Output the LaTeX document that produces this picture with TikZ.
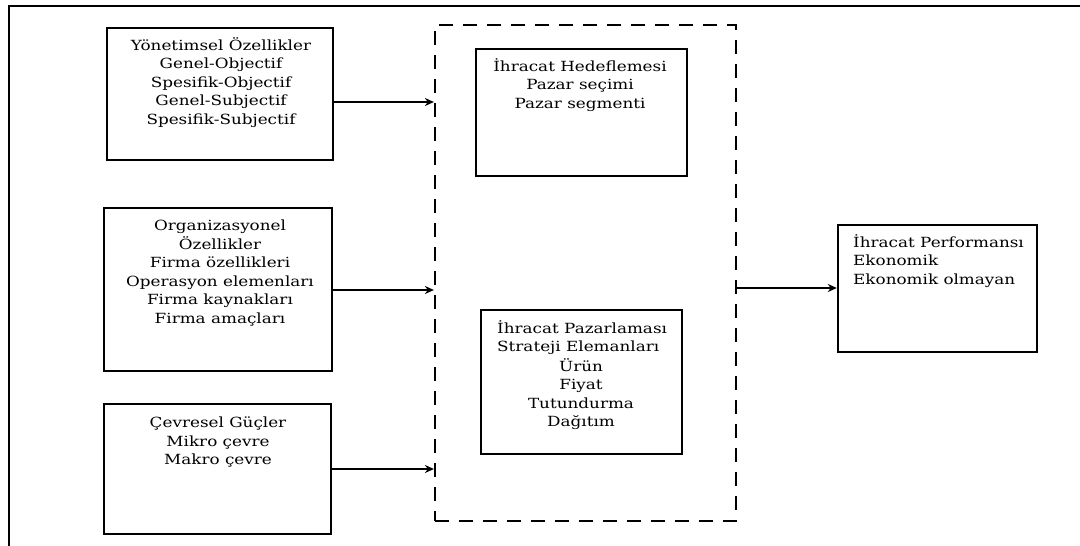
\documentclass[tikz,border=0pt]{standalone}
\usepackage{fontspec}
\setmainfont[FakeStretch=1.2]{DejaVu Serif}
\usetikzlibrary{fit,arrows.meta}
\tikzset{
  box/.style={draw, line width=2.4pt, inner sep=0pt},
  dashbox/.style={draw, line width=2.2pt, inner sep=0pt, dash pattern=on 14pt off 10pt},
  lbl/.style={inner sep=0pt, font=\fontsize{14}{18.5}\selectfont, anchor=north},
  arr/.style={line width=1.6pt, -{Stealth[length=9pt,width=8pt]}},
  frame/.style={line width=2.6pt}
}
\begin{document}
\begin{tikzpicture}[x=1pt,y=-1pt]
\useasboundingbox (0,0) rectangle (1080,546);
% outer frame
\coordinate (f1) at (9,546);
\coordinate (f2) at (9,6);
\coordinate (f3) at (1080,6);
\draw[frame] (f1) -- (f2) -- (f3);
% boxes
\node[box, fit={(107,28)(333,160)}] (b1) {};
\node[box, fit={(104,208)(332,371)}] (b2) {};
\node[box, fit={(104,404)(331,534)}] (b3) {};
\node[dashbox, fit={(435,25)(736,521)}] (dash) {};
\node[box, fit={(476,49)(687,176)}] (h1) {};
\node[box, fit={(481,310)(682,454)}] (h2) {};
\node[box, fit={(838,225)(1037,352)}] (rb) {};
% texts
\node[lbl, align=center] (t1) at (221,37) {Yönetimsel Özellikler\\Genel-Objectif\\Spesifik-Objectif\\Genel-Subjectif\\Spesifik-Subjectif};
\node[lbl, align=center] (t2) at (220,220) {Organizasyonel\\Özellikler\\Firma özellikleri\\Operasyon elemenları\\Firma kaynakları\\Firma amaçları};
\node[lbl, align=center] (t3) at (218,417) {Çevresel Güçler\\Mikro çevre\\Makro çevre};
\node[lbl, align=center] (t4) at (580,58) {İhracat Hedeflemesi\\Pazar seçimi\\Pazar segmenti};
\node[lbl, align=left, anchor=north west] (t5) at (497,320) {İhracat Pazarlaması\\Strateji Elemanları};
\node[lbl, align=center] (t6) at (581,358) {Ürün\\Fiyat\\Tutundurma\\Dağıtım};
\node[lbl, align=left, anchor=north west] (t7) at (853,234) {İhracat Performansı\\Ekonomik\\Ekonomik olmayan};
% arrows
\coordinate (y1) at (0,102);
\coordinate (y2) at (0,290);
\coordinate (y3) at (0,469);
\coordinate (y4) at (0,288);
\draw[arr] (b1.east |- y1) -- (dash.west |- y1);
\draw[arr] (b2.east |- y2) -- (dash.west |- y2);
\draw[arr] (b3.east |- y3) -- (dash.west |- y3);
\draw[arr] (dash.east |- y4) -- (rb.west |- y4);
\end{tikzpicture}
\end{document}
